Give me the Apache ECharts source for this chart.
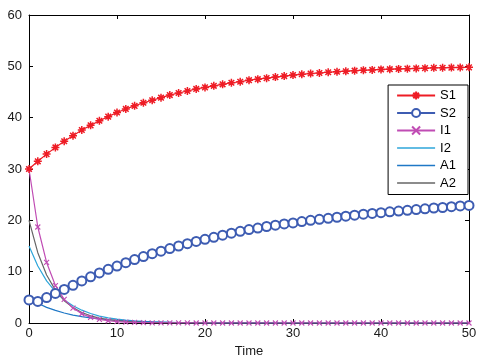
<!DOCTYPE html>
<html>
<head>
<meta charset="utf-8">
<script src="https://cdn.jsdelivr.net/npm/echarts@6/dist/echarts.min.js"></script>
<style>
html,body{margin:0;padding:0;background:#fff;}
#chart{width:488px;height:358px;}
</style>
</head>
<body>
<div id="chart"></div>
<script>
var time = [0,1,2,3,4,5,6,7,8,9,10,11,12,13,14,15,16,17,18,19,20,21,22,23,24,25,26,27,28,29,30,31,32,33,34,35,36,37,38,39,40,41,42,43,44,45,46,47,48,49,50];
var S1 = [30,31.5,32.9,34.2,35.4,36.5,37.6,38.5,39.4,40.2,41.0,41.7,42.3,42.9,43.4,43.9,44.4,44.8,45.2,45.6,45.9,46.2,46.5,46.8,47.0,47.3,47.5,47.7,47.9,48.1,48.3,48.45,48.6,48.7,48.85,48.95,49.05,49.15,49.25,49.3,49.4,49.45,49.5,49.55,49.6,49.65,49.7,49.72,49.75,49.78,49.8];
var S2 = [4.5,4.2,4.95,5.75,6.55,7.35,8.2,9.0,9.75,10.45,11.1,11.75,12.35,12.95,13.5,14.0,14.5,15.0,15.45,15.9,16.3,16.7,17.1,17.5,17.85,18.2,18.5,18.8,19.05,19.3,19.5,19.75,20.0,20.2,20.4,20.6,20.8,21.0,21.2,21.35,21.5,21.65,21.8,21.95,22.1,22.25,22.4,22.5,22.65,22.8,22.9];
var I1 = [30,18.7,11.8,7.3,4.6,2.9,1.8,1.1,0.7,0.44,0.27,0.17,0.11,0.07,0.04,0.03,0.02,0.01,0.01,0,0,0,0,0,0,0,0,0,0,0,0,0,0,0,0,0,0,0,0,0,0,0,0,0,0,0,0,0,0,0,0];
var I2 = [15,11.1,8.2,6.1,4.5,3.35,2.5,1.85,1.35,1.0,0.75,0.55,0.41,0.3,0.22,0.17,0.12,0.09,0.07,0.05,0.04,0.03,0.02,0.02,0.01,0.01,0,0,0,0,0,0,0,0,0,0,0,0,0,0,0,0,0,0,0,0,0,0,0,0,0];
var A1 = [4.8,3.85,3.05,2.45,1.95,1.55,1.25,1.0,0.8,0.63,0.5,0.4,0.32,0.26,0.2,0.16,0.13,0.1,0.08,0.065,0.05,0.04,0.03,0.025,0.02,0.015,0.01,0.01,0.01,0,0,0,0,0,0,0,0,0,0,0,0,0,0,0,0,0,0,0,0,0,0];
var A2 = [20,13.7,9.35,6.4,4.35,3.0,2.05,1.4,0.95,0.65,0.45,0.31,0.21,0.14,0.1,0.07,0.05,0.03,0.02,0.01,0.01,0,0,0,0,0,0,0,0,0,0,0,0,0,0,0,0,0,0,0,0,0,0,0,0,0,0,0,0,0,0];
var xTicks = [0,10,20,30,40,50];
var yTicks = [0,10,20,30,40,50,60];
var seriesNames = ['S1','S2','I1','I2','A1','A2'];

function pairs(v){ return time.map(function(t,i){ return [t, v[i]]; }); }

var FONT = 'Liberation Sans, Arial, sans-serif';
var star = 'path://M4 0L4 8M0 4L8 4M1.2 1.2L6.8 6.8M1.2 6.8L6.8 1.2';
var cross = 'path://M0 0L6 6M0 6L6 0';
var lineIcon = 'path://M0 0L38 0L38 1.3L0 1.3Z';

var chart = echarts.init(document.getElementById('chart'), null, {renderer:'canvas'});

function axisCommon(show, margin){
  return {
    axisLine:{show:true,onZero:false,lineStyle:{color:'#000',width:1}},
    axisTick:{show:true,inside:true,length:4,lineStyle:{color:'#000'}},
    splitLine:{show:false},
    axisLabel:{show:show,color:'#1a1a1a',fontSize:13,fontFamily:FONT,margin:margin}
  };
}

var option = {
  animation:false,
  backgroundColor:'#fff',
  grid:{left:29,right:19,top:15,bottom:35,containLabel:false,outerBoundsMode:'none'},
  xAxis:[
    Object.assign({type:'value',min:xTicks[0],max:xTicks[xTicks.length-1],interval:10,position:'bottom',
      name:'Time',nameLocation:'middle',nameGap:16,nameTextStyle:{color:'#1a1a1a',fontSize:13,fontFamily:FONT}},
      axisCommon(true, 4)),
    Object.assign({type:'value',min:xTicks[0],max:xTicks[xTicks.length-1],interval:10,position:'top'},axisCommon(false, 6))
  ],
  yAxis:[
    Object.assign({type:'value',min:yTicks[0],max:yTicks[yTicks.length-1],interval:10,position:'left'},axisCommon(true, 7)),
    Object.assign({type:'value',min:yTicks[0],max:yTicks[yTicks.length-1],interval:10,position:'right'},axisCommon(false, 6))
  ],
  legend:{
    orient:'vertical',right:20,top:85,z:10,
    data:[
      {name:'S1'},{name:'S2'},{name:'I1'},
      {name:'I2',icon:lineIcon},{name:'A1',icon:lineIcon},{name:'A2',icon:lineIcon}
    ],
    itemWidth:38,itemHeight:10,itemGap:4.5,
    padding:[4,12,5,8],
    borderColor:'#000',borderWidth:1,backgroundColor:'#fff',
    textStyle:{color:'#000',fontSize:13,fontFamily:FONT}
  },
  series:[
    {name:'S1',type:'line',data:pairs(S1),symbol:star,symbolSize:8,showAllSymbol:true,
      color:'#ee1c25',lineStyle:{color:'#ee1c25',width:1.2},
      itemStyle:{color:'transparent',borderColor:'#ee1c25',borderWidth:1.5},z:5},
    {name:'S2',type:'line',data:pairs(S2),symbol:'emptyCircle',symbolSize:9,showAllSymbol:true,
      color:'#3d5cb2',lineStyle:{color:'#3d5cb2',width:1},
      itemStyle:{color:'#3d5cb2',borderWidth:0.9},z:4},
    {name:'I1',type:'line',data:pairs(I1),symbol:cross,symbolSize:5,showAllSymbol:true,
      color:'#c04cb4',lineStyle:{color:'#c04cb4',width:1.2},
      itemStyle:{color:'transparent',borderColor:'#c04cb4',borderWidth:1.1},z:3},
    {name:'I2',type:'line',data:pairs(I2),symbol:'none',
      color:'#2ea6da',lineStyle:{color:'#2ea6da',width:1.2},itemStyle:{color:'#2ea6da'},z:2},
    {name:'A1',type:'line',data:pairs(A1),symbol:'none',
      color:'#1f78c6',lineStyle:{color:'#1f78c6',width:1.2},itemStyle:{color:'#1f78c6'},z:2},
    {name:'A2',type:'line',data:pairs(A2),symbol:'none',
      color:'#666666',lineStyle:{color:'#666666',width:1.2},itemStyle:{color:'#666666'},z:2}
  ]
};
chart.setOption(option);
</script>
</body>
</html>
